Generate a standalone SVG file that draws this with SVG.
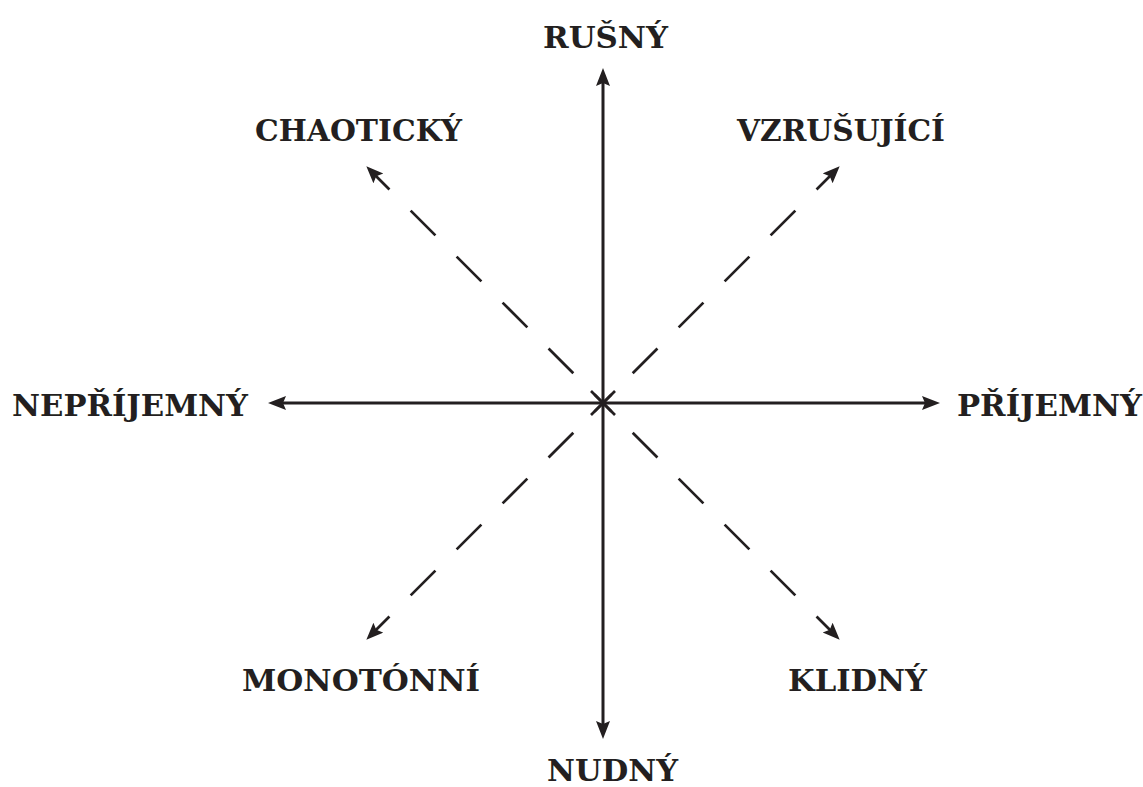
<svg xmlns="http://www.w3.org/2000/svg" width="1143" height="787" viewBox="0 0 1143 787">
  <style>
    .lbl { font-family: "DejaVu Serif", "Liberation Serif", serif; font-size: 30px; font-weight: bold; fill: #231f20; }
    .axis { stroke: #231f20; stroke-width: 3; fill: none; }
    .diag { stroke: #231f20; stroke-width: 2.7; fill: none; stroke-dasharray: 35 30; stroke-dashoffset: 23; }
    .mark { stroke: #231f20; stroke-width: 2.7; }
  </style>
  <defs>
    <marker id="ah" markerUnits="userSpaceOnUse" markerWidth="20" markerHeight="16" refX="8" refY="7" orient="auto-start-reverse" viewBox="0 0 20 16">
      <path d="M0,0 L18,7 L0,14 L3,7 z" fill="#231f20"/>
    </marker>
    <marker id="ahs" markerUnits="userSpaceOnUse" markerWidth="20" markerHeight="16" refX="8" refY="7" orient="auto" viewBox="0 0 20 16">
      <path d="M0,0 L17,7 L0,14 L3,7 z" fill="#231f20"/>
    </marker>
  </defs>
  <g id="connectors">
    <line class="axis" x1="603" y1="78" x2="603" y2="729" marker-start="url(#ah)" marker-end="url(#ah)"/>
    <line class="axis" x1="278" y1="403" x2="930" y2="403" marker-start="url(#ah)" marker-end="url(#ah)"/>
    <line class="diag" x1="603" y1="403" x2="372.7" y2="172.7" marker-end="url(#ahs)"/>
    <line class="diag" x1="603" y1="403" x2="833.3" y2="172.7" marker-end="url(#ahs)"/>
    <line class="diag" x1="603" y1="403" x2="372.7" y2="633.3" marker-end="url(#ahs)"/>
    <line class="diag" x1="603" y1="403" x2="833.3" y2="633.3" marker-end="url(#ahs)"/>
    <line class="mark" x1="591" y1="391" x2="615" y2="415"/>
    <line class="mark" x1="615" y1="391" x2="591" y2="415"/>
  </g>
  <g id="rusny"><text class="lbl" x="543" y="48" textLength="125" lengthAdjust="spacingAndGlyphs">RUŠNÝ</text></g>
  <g id="chaoticky"><text class="lbl" x="255" y="141" textLength="207" lengthAdjust="spacingAndGlyphs">CHAOTICKÝ</text></g>
  <g id="vzrusujici"><text class="lbl" x="737" y="141" textLength="208" lengthAdjust="spacingAndGlyphs">VZRUŠUJÍCÍ</text></g>
  <g id="neprijemny"><text class="lbl" x="12" y="416" textLength="236" lengthAdjust="spacingAndGlyphs">NEPŘÍJEMNÝ</text></g>
  <g id="prijemny"><text class="lbl" x="957" y="416" textLength="185" lengthAdjust="spacingAndGlyphs">PŘÍJEMNÝ</text></g>
  <g id="monotonni"><text class="lbl" x="242" y="691" textLength="238" lengthAdjust="spacingAndGlyphs">MONOTÓNNÍ</text></g>
  <g id="klidny"><text class="lbl" x="788" y="691" textLength="139" lengthAdjust="spacingAndGlyphs">KLIDNÝ</text></g>
  <g id="nudny"><text class="lbl" x="547" y="781" textLength="131" lengthAdjust="spacingAndGlyphs">NUDNÝ</text></g>
</svg>
